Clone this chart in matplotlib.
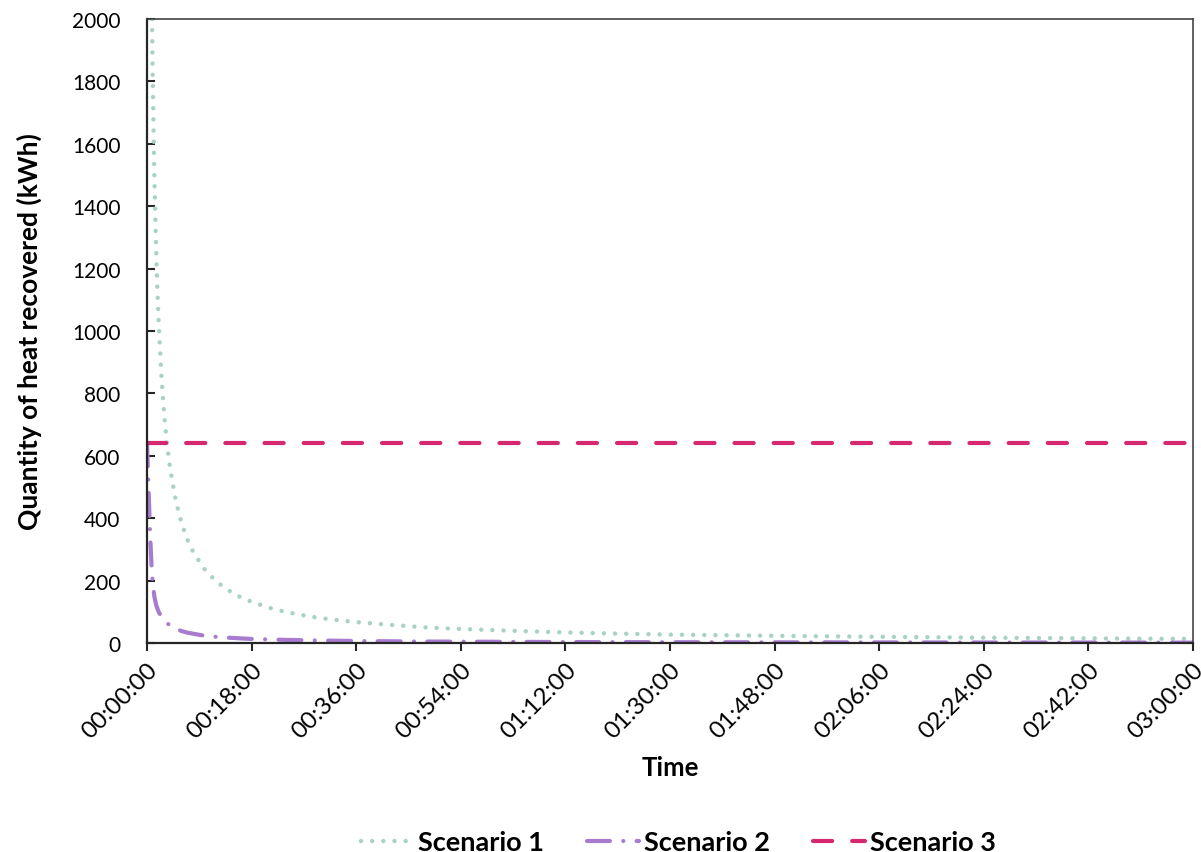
import matplotlib
matplotlib.use("Agg")
import matplotlib.pyplot as plt
import matplotlib.transforms as mtransforms
from matplotlib.lines import Line2D

plt.rcParams['font.family'] = ['Lato', 'DejaVu Sans']

# ---- data (time in minutes, heat in kWh) ----
s1_time = [0.86, 1.0, 1.25, 1.5, 1.75, 2.0, 2.5, 3.0, 3.5, 4.0, 5.0, 6.0, 7.0, 8.0,
           10, 12, 14, 16, 18, 21, 24, 28, 32, 36, 42, 48, 54, 63, 72, 81, 90,
           108, 126, 144, 162, 180]
s1_vals = [2000, 1790, 1510, 1310, 1150, 1030, 850, 722, 628, 556, 452, 381, 329, 290,
           234, 196, 169, 148, 132, 113, 99, 85, 75, 67, 58, 50, 45, 39, 34, 30, 27,
           23, 20, 17, 15, 13]

s2_time = [0, 0.2, 0.4, 0.6, 0.8, 1.0, 1.26, 1.6, 2.0, 2.4, 3.0, 3.5, 4.25, 5.0, 6.0,
           7.0, 8.5, 10, 12, 14, 16, 18, 21, 24, 30, 36, 45, 54, 63, 72, 90, 108,
           126, 144, 162, 180]
s2_vals = [640, 530, 420, 320, 240, 190, 150, 120, 100, 87, 72, 63, 52, 45, 38,
           33, 28, 23, 19.5, 17, 15, 13, 11.5, 10, 8, 6.5, 5, 4.3, 3.7, 3.2, 2.6, 2.2,
           1.9, 1.6, 1.5, 1.3]

s3_time = [0, 180]
s3_vals = [640, 640]

series_names = ["Scenario 1", "Scenario 2", "Scenario 3"]
x_tick_pos = [0, 18, 36, 54, 72, 90, 108, 126, 144, 162, 180]
x_tick_labels = ["00:00:00", "00:18:00", "00:36:00", "00:54:00", "01:12:00",
                 "01:30:00", "01:48:00", "02:06:00", "02:24:00", "02:42:00",
                 "03:00:00"]
y_ticks = [0, 200, 400, 600, 800, 1000, 1200, 1400, 1600, 1800, 2000]

c1 = "#A9D2C5"
c2 = "#A77CCF"
c3 = "#D5286E"

fig = plt.figure(figsize=(12.01, 8.53), dpi=100)
ax = fig.add_axes([0.1224, 0.245, 0.8709, 0.7316])

ls1 = (0, (0.01, 2.5))
ls2 = (0, (5.5, 3.2, 0.01, 3.2))
ls3 = (0, (4.6, 4.8))

ax.plot(s1_time, s1_vals, color=c1, lw=3.2, linestyle=ls1,
        dash_capstyle='round', solid_capstyle='round')
ax.plot(s2_time, s2_vals, color=c2, lw=3.0, linestyle=ls2,
        dash_capstyle='round')
ax.plot(s3_time, s3_vals, color=c3, lw=3.0, linestyle=ls3,
        dash_capstyle='round')

ax.set_xlim(0, 180)
ax.set_ylim(0, 2000)
ax.set_xticks(x_tick_pos)
ax.set_xticklabels(x_tick_labels, rotation=45, ha='right', rotation_mode='anchor',
                   fontsize=17.5)
offset = mtransforms.ScaledTranslation(-4 / 100, 0, fig.dpi_scale_trans)
for lab in ax.get_xticklabels():
    lab.set_transform(lab.get_transform() + offset)
ax.set_yticks(y_ticks)
ax.set_yticklabels([str(v) for v in y_ticks], fontsize=15)
ax.tick_params(axis='x', direction='out', length=6, width=1.5, color='#262626', pad=5)
ax.tick_params(axis='y', direction='in', length=6, width=1.5, color='#262626', pad=19)

for side in ['left', 'bottom']:
    ax.spines[side].set_color('#262626')
    ax.spines[side].set_linewidth(1.6)
for side in ['top', 'right']:
    ax.spines[side].set_color('#444444')
    ax.spines[side].set_linewidth(1.2)

ax.set_xlabel("Time", fontsize=18.5, fontweight='bold', labelpad=10)
ax.set_ylabel("Quantity of heat recovered (kWh)", fontsize=19, fontweight='bold',
              labelpad=22)

handles = [
    Line2D([0], [0], color=c1, lw=3.2, linestyle=ls1, dash_capstyle='round'),
    Line2D([0], [0], color=c2, lw=3.0, linestyle=ls2, dash_capstyle='round'),
    Line2D([0], [0], color=c3, lw=3.0, linestyle=ls3, dash_capstyle='round'),
]
fig.legend(handles, series_names, loc='lower center', bbox_to_anchor=(0.565, -0.031),
           ncol=3, frameon=False, handlelength=1.9, handletextpad=0.2,
           columnspacing=1.6, prop={'size': 19.5, 'weight': 'bold'})

fig.savefig("out.png", dpi=100)
